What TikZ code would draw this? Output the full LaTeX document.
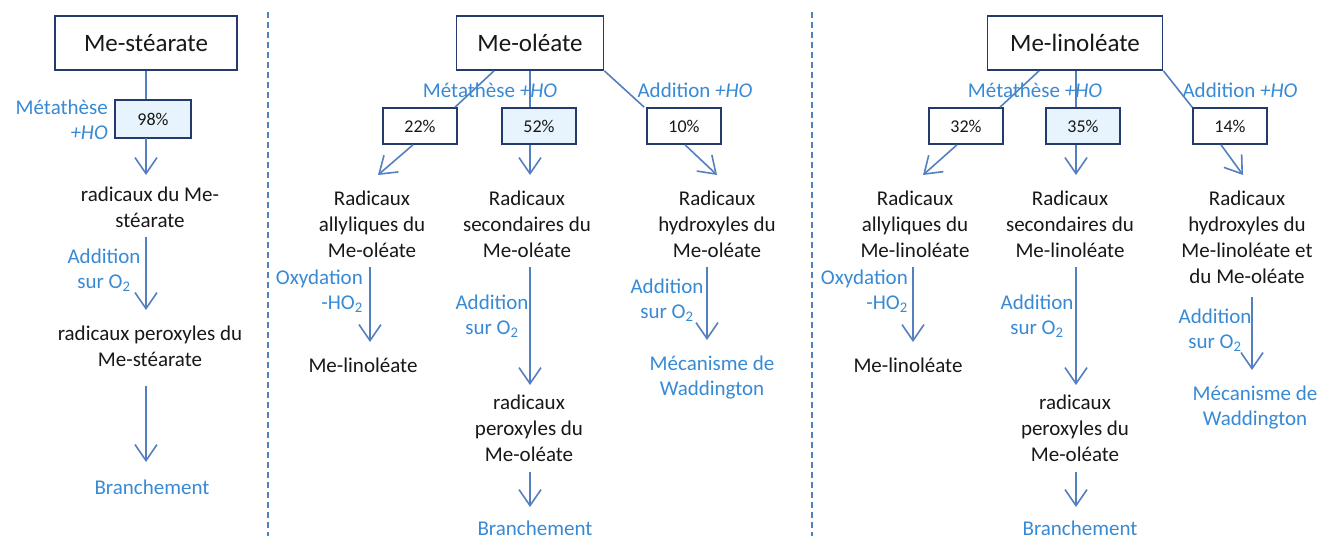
\documentclass[tikz,border=0pt]{standalone}
\usepackage{fontspec}
\setmainfont{Carlito}
\usetikzlibrary{arrows.meta}
\definecolor{boxc}{RGB}{36,58,108}
\definecolor{linec}{RGB}{84,128,192}
\definecolor{lblc}{RGB}{56,138,212}
\definecolor{txt}{RGB}{24,24,24}
\definecolor{boxfill}{RGB}{232,244,253}
\begin{document}
\begin{tikzpicture}[x=1pt,y=-1pt,
  titlebox/.style={draw=boxc, line width=1.8pt, minimum height=54pt, inner sep=0pt, font=\fontsize{25}{30}\selectfont, text=txt},
  pct/.style={draw=boxc, line width=1.6pt, minimum width=74pt, minimum height=36pt, inner sep=0pt, font=\fontsize{18}{20}\selectfont, text=txt, fill=white},
  pcthi/.style={pct, fill=boxfill},
  txtn/.style={align=center, font=\fontsize{21}{26}\selectfont, inner sep=0pt, text=txt},
  lbl/.style={align=center, font=\fontsize{21}{25}\selectfont, inner sep=0pt, text=lblc},
  ln/.style={draw=linec, line width=1.6pt},
  arr/.style={ln, -{Straight Barb[length=16pt,width=22pt]}},
  sep/.style={draw=linec, line width=1.2pt, dash pattern=on 6pt off 4pt}
]
\useasboundingbox (0,0) rectangle (1338,540);
\fill[white] (0,0) rectangle (1338,540);

% separators
\coordinate (d1a) at (268,12); \coordinate (d1b) at (268,536);
\coordinate (d2a) at (812,12); \coordinate (d2b) at (812,536);
\draw[sep] (d1a) -- (d1b);
\draw[sep] (d2a) -- (d2b);

% ===== Panel 1 =====
\node[titlebox, minimum width=182pt] (ms) at (146,43) {Me-stéarate};
\node[pcthi, minimum width=76pt, minimum height=38pt] (p98) at (153,119) {98\%};
\draw[ln] (ms.south) -- (ms.south |- p98.north);
\node[lbl, align=right, anchor=east] (l98) at (108,120) {Métathèse\\\textit{+HO}};
\coordinate (a1s) at (146,138); \coordinate (a1e) at (146,175);
\draw[arr] (a1s) -- (a1e);
\node[txtn] (r1) at (150,207) {radicaux du Me-\\stéarate};
\coordinate (a2s) at (146,237); \coordinate (a2e) at (146,310);
\draw[arr] (a2s) -- (a2e);
\node[lbl] (l1b) at (104,270) {Addition\\sur O\textsubscript{2}};
\node[txtn] (r2) at (150,346) {radicaux peroxyles du\\Me-stéarate};
\coordinate (a3s) at (146,386); \coordinate (a3e) at (146,462);
\draw[arr] (a3s) -- (a3e);
\node[lbl] (b1) at (152,487) {Branchement};

% ===== Panel 2 =====
\node[titlebox, minimum width=147pt] (mo) at (530,43) {Me-oléate};
\node[pct] (p22) at (420,126) {22\%};
\node[pcthi] (p52) at (539,126) {52\%};
\node[pct] (p10) at (684,126) {10\%};
\draw[ln] ([xshift=-36pt]mo.south) -- ([xshift=35pt]p22.north);
\draw[ln] (mo.south) -- (mo.south |- p52.north);
\draw[ln] (mo.south east) -- ([xshift=-2pt]p10.north west);
\node[lbl] (lm2) at (490,90) {Métathèse \textit{+HO}};
\node[lbl] (la2) at (695,90) {Addition \textit{+HO}};
\coordinate (b22) at (378,175);
\coordinate (b52) at (530,175);
\coordinate (b10) at (717,175);
\draw[arr] ([xshift=-7pt]p22.south) -- (b22);
\draw[arr] (mo.south |- p52.south) -- (b52);
\draw[arr] ([xshift=1pt]p10.south) -- (b10);
\node[txtn] (ra2) at (372,224) {Radicaux\\allyliques du\\Me-oléate};
\node[txtn] (rs2) at (527,224) {Radicaux\\secondaires du\\Me-oléate};
\node[txtn] (rh2) at (717,224) {Radicaux\\hydroxyles du\\Me-oléate};
\coordinate (c1s) at (370,267); \coordinate (c1e) at (370,342);
\coordinate (c2s) at (530,267); \coordinate (c2e) at (530,385);
\coordinate (c3s) at (707,267); \coordinate (c3e) at (707,340);
\draw[arr] (c1s) -- (c1e);
\draw[arr] (c2s) -- (c2e);
\draw[arr] (c3s) -- (c3e);
\node[lbl, align=right, anchor=east] (lo2) at (363,291) {Oxydation\\-HO\textsubscript{2}};
\node[lbl] (lad2) at (492,316) {Addition\\sur O\textsubscript{2}};
\node[lbl] (lah2) at (667,300) {Addition\\sur O\textsubscript{2}};
\node[txtn] (li2) at (363,365) {Me-linoléate};
\node[txtn] (rp2) at (529,428) {radicaux\\peroxyles du\\Me-oléate};
\coordinate (c4s) at (530,472); \coordinate (c4e) at (530,507);
\draw[arr] (c4s) -- (c4e);
\node[lbl] (br2) at (535,528) {Branchement};
\node[lbl] (wa2) at (712,378) {Mécanisme de\\Waddington};

% ===== Panel 3 =====
\node[titlebox, minimum width=175pt] (ml) at (1075,43) {Me-linoléate};
\node[pct] (p32) at (966,126) {32\%};
\node[pcthi] (p35) at (1083,126) {35\%};
\node[pct] (p14) at (1230,126) {14\%};
\draw[ln] ([xshift=-36pt]ml.south) -- ([xshift=34pt]p32.north);
\draw[ln] ([xshift=1pt]ml.south) -- ([xshift=1pt]ml.south |- p35.north);
\draw[ln] (ml.south east) -- (p14.north west);
\node[lbl] (lm3) at (1035,90) {Métathèse \textit{+HO}};
\node[lbl] (la3) at (1240,90) {Addition \textit{+HO}};
\coordinate (b32) at (923,175);
\coordinate (b35) at (1076,175);
\coordinate (b14) at (1243,175);
\draw[arr] ([xshift=-9pt]p32.south) -- (b32);
\draw[arr] ([xshift=1pt]ml.south |- p35.south) -- (b35);
\draw[arr] ([xshift=-9pt]p14.south) -- (b14);
\node[txtn] (ra3) at (915,224) {Radicaux\\allyliques du\\Me-linoléate};
\node[txtn] (rs3) at (1070,224) {Radicaux\\secondaires du\\Me-linoléate};
\node[txtn] (rh3) at (1247,237) {Radicaux\\hydroxyles du\\Me-linoléate et\\du Me-oléate};
\coordinate (e1s) at (913,267); \coordinate (e1e) at (913,342);
\coordinate (e2s) at (1076,267); \coordinate (e2e) at (1076,385);
\coordinate (e3s) at (1252,297); \coordinate (e3e) at (1252,370);
\draw[arr] (e1s) -- (e1e);
\draw[arr] (e2s) -- (e2e);
\draw[arr] (e3s) -- (e3e);
\node[lbl, align=right, anchor=east] (lo3) at (908,291) {Oxydation\\-HO\textsubscript{2}};
\node[lbl] (lad3) at (1037,316) {Addition\\sur O\textsubscript{2}};
\node[lbl] (lah3) at (1215,330) {Addition\\sur O\textsubscript{2}};
\node[txtn] (li3) at (908,365) {Me-linoléate};
\node[txtn] (rp3) at (1075,428) {radicaux\\peroxyles du\\Me-oléate};
\coordinate (e4s) at (1076,472); \coordinate (e4e) at (1076,507);
\draw[arr] (e4s) -- (e4e);
\node[lbl] (br3) at (1080,528) {Branchement};
\node[lbl] (wa3) at (1255,408) {Mécanisme de\\Waddington};
\end{tikzpicture}
\end{document}
